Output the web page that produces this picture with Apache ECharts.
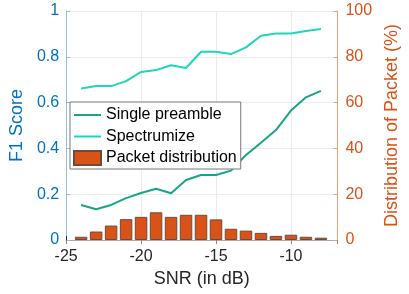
<!DOCTYPE html>
<html>
<head>
<meta charset="utf-8">
<script src="https://cdn.jsdelivr.net/npm/echarts@6/dist/echarts.min.js"></script>
<style>
  html, body { margin: 0; padding: 0; background: #fff; }
  #chart { width: 409px; height: 294px; }
</style>
</head>
<body>
<div id="chart"></div>
<script>
// data
var snr = [-24, -23, -22, -21, -20, -19, -18, -17, -16, -15, -14, -13, -12, -11, -10, -9, -8];
var singlePreamble = [0.153, 0.134, 0.153, 0.183, 0.205, 0.224, 0.204, 0.262, 0.284, 0.284, 0.303, 0.371, 0.425, 0.48, 0.565, 0.623, 0.651];
var spectrumize = [0.662, 0.672, 0.672, 0.694, 0.734, 0.742, 0.763, 0.751, 0.822, 0.822, 0.812, 0.841, 0.892, 0.902, 0.902, 0.913, 0.921];
var packetDist = [1.4, 3.7, 6.3, 9.1, 10.1, 12.1, 10.1, 11, 11, 9, 4.9, 4.1, 3.1, 1.8, 2.3, 1.4, 1.0];

function pairs(ys) {
  return snr.map(function (x, i) { return [x, ys[i]]; });
}

var font = 'Liberation Sans, Arial, Helvetica, sans-serif';
var blue = '#0072BD';
var orange = '#D95319';
// thin horizontal stroke for the line entries of the legend
var lineIcon = 'path://M0,0L0.01,0M0,6H27V8H0ZM27,14L26.99,14';

var chart = echarts.init(document.getElementById('chart'));

var option = {
  animation: false,
  textStyle: { fontFamily: font },
  grid: { left: 63, right: 62, top: 11, bottom: 54, containLabel: false },
  legend: {
    orient: 'vertical',
    left: 70,
    top: 102,
    padding: [5, 4, 3, 3],
    itemGap: 5.5,
    itemWidth: 27,
    itemHeight: 14,
    backgroundColor: '#fff',
    borderColor: '#777',
    borderWidth: 1,
    borderRadius: 0,
    textStyle: { fontFamily: font, fontSize: 16, color: '#000' },
    data: [
      { name: 'Single preamble', icon: lineIcon },
      { name: 'Spectrumize', icon: lineIcon },
      { name: 'Packet distribution', icon: 'rect' }
    ]
  },
  xAxis: [{
    type: 'value',
    min: -25,
    max: -6.9,
    interval: 5,
    name: 'SNR (in dB)',
    nameLocation: 'middle',
    nameGap: 30,
    nameTextStyle: { fontFamily: font, fontSize: 18, color: '#262626' },
    axisLine: { show: true, lineStyle: { color: '#dba78c', width: 1 } },
    axisTick: { show: true, inside: true, length: 4, lineStyle: { color: '#262626' } },
    axisLabel: { fontFamily: font, fontSize: 16, color: '#262626', margin: 9, showMaxLabel: false },
    splitLine: { show: true, lineStyle: { color: '#ebebeb', width: 1 } }
  }, {
    type: 'value',
    position: 'top',
    min: -25,
    max: -6.9,
    interval: 5,
    axisLine: { show: true, lineStyle: { color: '#aaaaaa', width: 1 } },
    axisTick: { show: true, inside: true, length: 4, lineStyle: { color: '#888' } },
    axisLabel: { show: false },
    splitLine: { show: false }
  }],
  yAxis: [{
    type: 'value',
    min: 0,
    max: 1,
    interval: 0.2,
    name: 'F1 Score',
    nameLocation: 'middle',
    nameGap: 37,
    nameTextStyle: { fontFamily: font, fontSize: 18, color: blue },
    axisLine: { show: true, lineStyle: { color: '#8dbde0', width: 1 } },
    axisTick: { show: true, inside: true, length: 4, lineStyle: { color: '#8dbde0' } },
    axisLabel: { fontFamily: font, fontSize: 16, color: blue, margin: 7 },
    splitLine: { show: true, lineStyle: { color: '#ebebeb', width: 1 } }
  }, {
    type: 'value',
    position: 'right',
    min: 0,
    max: 100,
    interval: 20,
    name: 'Distribution of Packet (%)',
    nameLocation: 'middle',
    nameGap: 41,
    nameRotate: 90,
    nameTextStyle: { fontFamily: font, fontSize: 18, color: orange },
    axisLine: { show: true, lineStyle: { color: '#eba27a', width: 1 } },
    axisTick: { show: true, inside: true, length: 4, lineStyle: { color: '#eba27a' } },
    axisLabel: { fontFamily: font, fontSize: 16, color: orange, margin: 8 },
    splitLine: { show: false }
  }],
  series: [{
    name: 'Packet distribution',
    type: 'bar',
    xAxisIndex: 0,
    yAxisIndex: 1,
    barWidth: 12.5,
    z: 1,
    itemStyle: { color: orange, borderColor: '#6e4a3c', borderWidth: 1 },
    data: pairs(packetDist)
  }, {
    name: 'Single preamble',
    type: 'line',
    xAxisIndex: 0,
    yAxisIndex: 0,
    symbol: 'none',
    z: 3,
    lineStyle: { color: '#17a589', width: 2 },
    itemStyle: { color: '#17a589' },
    data: pairs(singlePreamble)
  }, {
    name: 'Spectrumize',
    type: 'line',
    xAxisIndex: 0,
    yAxisIndex: 0,
    symbol: 'none',
    z: 3,
    lineStyle: { color: '#1fd6b8', width: 2 },
    itemStyle: { color: '#1fd6b8' },
    data: pairs(spectrumize)
  }]
};

chart.setOption(option);
</script>
</body>
</html>
